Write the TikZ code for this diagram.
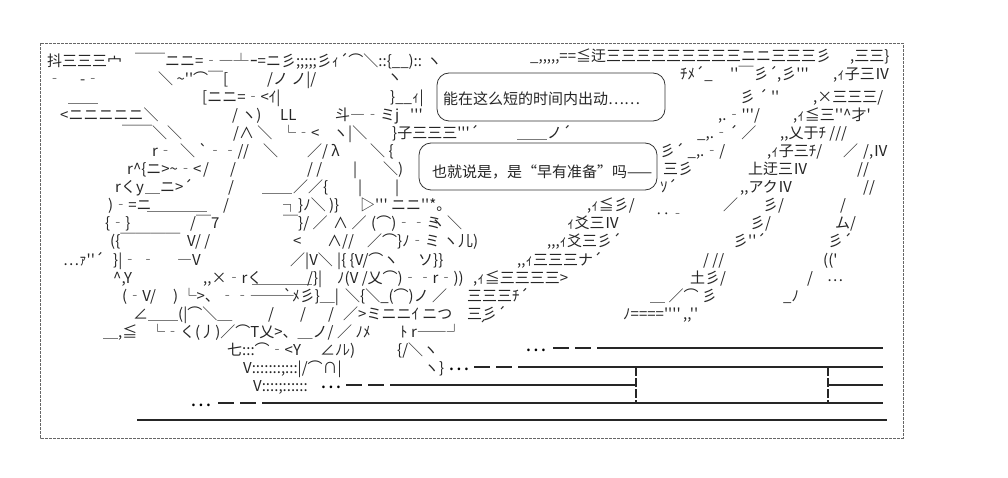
\documentclass[tikz,border=0pt]{standalone}
\usepackage{fontspec}
\newfontfamily\aafont{Noto Sans CJK JP}
\newfontfamily\zhfont{Noto Sans CJK SC}
\usetikzlibrary{positioning, calc}

\tikzset{
  aa/.style={anchor=base west, inner sep=0pt, text=black!85, font={\aafont\fontsize{15pt}{15pt}\selectfont}},
  say/.style={anchor=west, inner sep=0pt, text=black!85, font={\zhfont\fontsize{15pt}{15pt}\selectfont}},
  bubble/.style={draw=black!80, line width=0.8pt, rounded corners=12pt},
  frame/.style={draw=black!60, line width=0.6pt, dash pattern=on 3pt off 1pt},
  dots/.style={anchor=base west, inner sep=0pt, text height=2pt, text depth=0pt, font={\aafont\fontsize{20pt}{20pt}\selectfont}},
  road/.style={draw=black!85, line width=1.8pt},
  post/.style={draw=black!85, line width=1.6pt, dash pattern=on 9pt off 2pt}
}

\begin{document}
\begin{tikzpicture}[x=1pt,y=-1pt]
\useasboundingbox (0,0) rectangle (1008,478);
\draw[frame] (40,43) rectangle (903,438);

% row 0
\node[aa] (r0a) at (47,67) {抖三三三宀};
\node[aa] (r0b) at (135,67) {￣￣ニニ=‐―┴};
\node[aa] (r0c) at (250,67) {ｰ=ニ彡;;;;;彡ｨ´⌒＼::\{\_\_):: ヽ};
\node[aa] (r0d) at (530,62) {\_,,,,,==≦迂三三三三三三三三三ニニ三三三彡};
\node[aa] (r0e) at (850,62) {,三三\}};
% row 1
\node[aa] (r1a) at (47,85) {‐};
\node[aa] (r1b) at (80,85) {-‐};
\node[aa] (r1c) at (158,85) {＼ \textasciitilde''⌒￣[};
\node[aa] (r1d) at (267,85) {/ノ ノ|/};
\node[aa] (r1e) at (387,83) {ヽ};
\node[aa] (r1f) at (680,80) {ﾁﾒ´\_};
\node[aa] (r1g) at (730,80) {''￣彡´};
\node[aa] (r1h) at (777,80) {,彡'''};
\node[aa] (r1i) at (833,80) {,ｨ子三Ⅳ};
% row 2
\node[aa] (r2a) at (68,103) {＿＿};
\node[aa] (r2b) at (202,103) {[ニニ=‐<ｲ|};
\node[aa] (r2c) at (390,103) {\}\_\_ｨ|};
\node[aa] (r2d) at (740,103) {彡 ´ ''};
\node[aa] (r2e) at (813,103) {,×三三三/};
% row 3
\node[aa] (r3a) at (60,121) {<ニニニニニ＼};
\node[aa] (r3b) at (232,121) {/ ヽ)};
\node[aa] (r3c) at (280,121) {LL};
\node[aa] (r3d) at (335,121) {斗―‐ミj};
\node[aa] (r3e) at (410,121) {'''};
\node[aa] (r3f) at (718,121) {,.‐'''/};
\node[aa] (r3g) at (793,121) {,ｨ≦三''\textasciicircum 才'};
% row 4
\node[aa] (r4a) at (122,139) {￣￣＼＼};
\node[aa] (r4b) at (233,139) {/∧ ＼};
\node[aa] (r4d) at (281,139) {└‐<};
\node[aa] (r4e) at (333,139) {ヽ|＼};
\node[aa] (r4f) at (392,139) {\}子三三三'''´};
\node[aa] (r4g) at (517,139) {＿＿ノ´};
\node[aa] (r4h) at (697,139) {\_,.‐´ ／};
\node[aa] (r4i) at (780,139) {,,乂于ﾁ  ///};
% row 5
\node[aa] (r5a) at (152,157) {r‐};
\node[aa] (r5b) at (180,157) {＼ `‐‐/};
\node[aa] (r5c) at (243,157) {/};
\node[aa] (r5d) at (263,157) {＼};
\node[aa] (r5e) at (307,157) {／/ λ};
\node[aa] (r5f) at (370,157) {＼ \{};
\node[aa] (r5g) at (660,157) {彡´ \_,.‐/};
\node[aa] (r5h) at (767,157) {,ｨ子三ﾁ/};
\node[aa] (r5i) at (843,157) {／};
\node[aa] (r5j) at (863,157) {/,Ⅳ};
% row 6
\node[aa] (r6a) at (127,175) {r\textasciicircum\{ニ>\textasciitilde‐<};
\node[aa] (r6b) at (203,175) {/};
\node[aa] (r6c) at (230,175) {/};
\node[aa] (r6d) at (307,175) {/ /};
\node[aa] (r6e) at (353,175) {|};
\node[aa] (r6f) at (383,175) {＼)};
\node[aa] (r6g) at (663,175) {三彡};
\node[aa] (r6h) at (748,175) {上迂三Ⅳ};
\node[aa] (r6i) at (857,175) {//};
% row 7
\node[aa] (r7a) at (115,193) {rくy};
\node[aa] (r7b) at (145,193) {＿ニ>´};
\node[aa] (r7c) at (228,193) {/};
\node[aa] (r7d) at (262,193) {＿＿};
\node[aa] (r7e) at (293,193) {／／\{};
\node[aa] (r7f) at (358,193) {|};
\node[aa] (r7g) at (395,193) {|};
\node[aa] (r7h) at (660,193) {ｿ´};
\node[aa] (r7i) at (740,193) {,,アクⅣ};
\node[aa] (r7j) at (863,193) {//};
% row 8
\node[aa] (r8a) at (108,211) {)‐=ニ};
\node[aa] (r8b) at (147,211) {＿＿＿＿};
\node[aa] (r8c) at (223,211) {/};
\node[aa] (r8d) at (283,211) {┐\}ﾉ＼ )\}};
\node[aa] (r8e) at (360,211) {▷''' ニニ''*。};
\node[aa] (r8f) at (587,211) {,ｨ≦彡/};
\node[aa] (r8g) at (655,219) {‥‐};
\node[aa] (r8h) at (723,211) {／};
\node[aa] (r8i) at (763,211) {彡/};
\node[aa] (r8j) at (840,211) {/};
% row 9
\node[aa] (r9a) at (105,229) {\{‐\}};
\node[aa] (r9b) at (190,229) {/￣7};
\node[aa] (r9c) at (283,229) {￣\}/ ／};
\node[aa] (r9d) at (333,229) {∧ ／};
\node[aa] (r9e) at (371,229) {(⌒)‐‐ミ};
\node[aa] (r9f) at (430,229) {ヽ};
\node[aa] (r9g) at (447,229) {＼};
\node[aa] (r9h) at (567,229) {ｨ爻三Ⅳ};
\node[aa] (r9i) at (750,229) {彡/};
\node[aa] (r9j) at (835,229) {ム/};
% row 10
\node[aa] (r10a) at (110,247) {(\{￣￣￣￣};
\node[aa] (r10b) at (187,247) {V/ /};
\node[aa] (r10c) at (293,247) {<};
\node[aa] (r10d) at (327,247) {∧//};
\node[aa] (r10e) at (367,247) {／⌒\}ﾉ‐ミ ヽ儿)};
\node[aa] (r10f) at (547,247) {,,,ｨ爻三彡´};
\node[aa] (r10g) at (733,247) {彡''´};
\node[aa] (r10h) at (828,247) {彡´};
% row 11
\node[aa] (r11a) at (63,265) {…ｧ''´};
\node[aa] (r11b) at (113,265) {\}|‐ ‐};
\node[aa] (r11c) at (177,265) {―V};
\node[aa] (r11d) at (290,265) {／|V＼};
\node[aa] (r11e) at (337,265) {|\{ \{V/⌒ヽ};
\node[aa] (r11f) at (418,265) {ソ\}\}};
\node[aa] (r11g) at (517,265) {,,ｨ三三三ナ´};
\node[aa] (r11h) at (703,265) {/ //};
\node[aa] (r11i) at (823,265) {(('};
% row 12
\node[aa] (r12a) at (113,283) {\textasciicircum,Y};
\node[aa] (r12b) at (203,283) {,,×‐rく};
\node[aa] (r12c) at (252,283) {＿＿＿＿};
\node[aa] (r12d) at (307,283) {/\}|};
\node[aa] (r12f) at (337,283) {ﾉ(V /乂⌒)‐‐r‐))};
\node[aa] (r12g) at (473,283) {,ｨ≦三三三三>};
\node[aa] (r12h) at (690,283) {土彡/};
\node[aa] (r12i) at (807,283) {/};
\node[aa] (r12j) at (827,281) {…};
% row 13
\node[aa] (r13a) at (122,301) {(‐V/};
\node[aa] (r13b) at (173,301) {) └>、‐‐―――};
\node[aa] (r13c) at (283,301) {`ﾒ彡\}＿|};
\node[aa] (r13d) at (345,301) {＼\{＼\_(⌒)ノ ／};
\node[aa] (r13e) at (467,301) {三三三ﾁ´};
\node[aa] (r13f) at (650,301) {＿ ／⌒ 彡};
\node[aa] (r13g) at (783,301) {\_ﾉ};
% row 14
\node[aa] (r14a) at (133,319) {∠＿＿(|⌒＼＿};
\node[aa] (r14b) at (268,319) {/};
\node[aa] (r14c) at (300,319) {/};
\node[aa] (r14d) at (328,319) {/};
\node[aa] (r14e) at (343,319) {／>ミニニｲ ニつ};
\node[aa] (r14f) at (467,319) {三彡´};
\node[aa] (r14g) at (623,319) {ﾉ====''''};
\node[aa] (r14h) at (683,319) {,,''};
% row 15
\node[aa] (r15a) at (103,337) {＿,≦};
\node[aa] (r15b) at (150,337) {└‐く(丿)／⌒T乂>、＿ノ/};
\node[aa] (r15c) at (337,337) {／ ﾉﾒ};
\node[aa] (r15d) at (400,337) {ﾄ r――┘};
\node[aa] (r15e) at (478,332) {´};
% row 16
\node[aa] (r16a) at (227,355) {七:::⌒‐<Y};
\node[aa] (r16b) at (320,355) {∠ﾉﾚ)};
\node[aa] (r16c) at (397,355) {\{/＼ヽ};
% row 17
\node[aa] (r17a) at (243,373) {V:::::::;:::|/⌒∩|};
\node[aa] (r17b) at (424,373) {ヽ\}};
% row 18
\node[aa] (r18a) at (253,391) {V::::;::::::};

% speech bubbles
\draw[bubble] (437,73) rectangle (665,121);
\node[say] (say1) at (443,99) {能在这么短的时间内出动……};
\draw[bubble] (419,143) rectangle (657,190);
\node[say] (say2) at (432,172) {也就说是，是“早有准备”吗——};

% road
\node[dots] (d1) at (525,351) {…};
\draw[road] (553,348) -- (569,348);
\draw[road] (575,348) -- (591,348);
\draw[road] (597,348) -- (883,348);
\node[dots] (d2) at (448,370) {…};
\draw[road] (474,367) -- (490,367);
\draw[road] (496,367) -- (512,367);
\draw[road] (518,367) -- (883,367);
\node[dots] (d3) at (320,388) {…};
\draw[road] (346,385) -- (362,385);
\draw[road] (368,385) -- (384,385);
\draw[road] (390,385) -- (636,385);
\draw[road] (828,385) -- (883,385);
\node[dots] (d4) at (190,406) {…};
\draw[road] (218,403) -- (234,403);
\draw[road] (240,403) -- (256,403);
\draw[road] (262,403) -- (883,403);
\draw[road] (137,420) -- (887,420);
\draw[post] (636,367) -- (636,403);
\draw[post] (828,367) -- (828,403);
\end{tikzpicture}
\end{document}
